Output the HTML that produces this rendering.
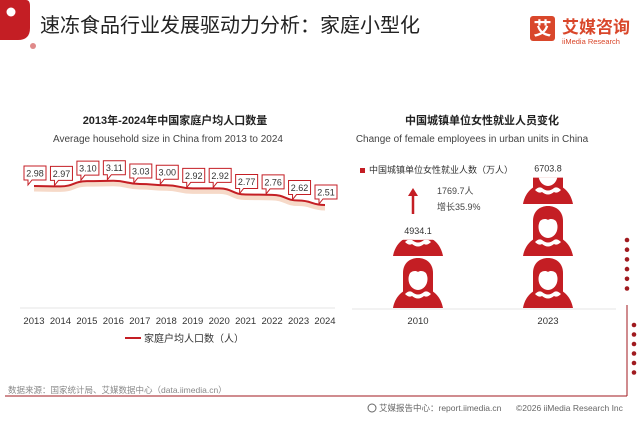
<!DOCTYPE html>
<html><head><meta charset="utf-8"><style>
html,body{margin:0;padding:0;background:#fff;}
body{width:640px;height:416px;overflow:hidden;font-family:"Liberation Sans","Noto Sans CJK SC",sans-serif;}
</style></head><body>
<svg id="root" width="640" height="416" viewBox="0 0 640 416" xmlns="http://www.w3.org/2000/svg" font-family="Liberation Sans, Noto Sans CJK SC, sans-serif">
  <g>
    <path d="M0,0 H26 Q30,0 30,6 V28 Q30,40 18,40 H0 Z" fill="#c41e24"/>
    <circle cx="11" cy="12" r="4.5" fill="#fff"/>
    <circle cx="33" cy="46" r="3" fill="#e08a8a"/>
    <text x="40" y="32" font-size="20" fill="#222">速冻食品行业发展驱动力分析：家庭小型化</text>
    <rect x="530" y="16" width="25" height="25" rx="3" fill="#d9472b"/>
    <text x="542.5" y="35" font-size="18" fill="#fff" text-anchor="middle" font-weight="bold">艾</text>
    <text x="562" y="33" font-size="17" fill="#d9472b" font-weight="bold">艾媒咨询</text>
    <text x="562" y="44" font-size="7.5" fill="#d9472b">iiMedia Research</text>
  </g>

  <g>
    <text x="175" y="124" font-size="11" fill="#222" text-anchor="middle" font-weight="bold">2013年-2024年中国家庭户均人口数量</text>
    <text x="168" y="142" font-size="10" fill="#444" text-anchor="middle">Average household size in China from 2013 to 2024</text>
    <line x1="20" y1="308" x2="335" y2="308" stroke="#e4e4e4"/>
    <g id="lineG"></g>
    <line x1="125" y1="338" x2="141" y2="338" stroke="#c41e24" stroke-width="2"/>
    <text x="144" y="342" font-size="10" fill="#333">家庭户均人口数（人）</text>
  </g>

  <g>
    <text x="482" y="124" font-size="11" fill="#222" text-anchor="middle" font-weight="bold">中国城镇单位女性就业人员变化</text>
    <text x="472" y="142" font-size="10" fill="#444" text-anchor="middle">Change of female employees in urban units in China</text>
    <rect x="360" y="168" width="5" height="5" fill="#c41e24"/>
    <text x="369" y="173" font-size="9" fill="#333">中国城镇单位女性就业人数（万人）</text>
    <line x1="413" y1="214" x2="413" y2="194" stroke="#c41e24" stroke-width="2.5"/>
    <path d="M408,196 L413,188 L418,196 Z" fill="#c41e24"/>
    <text x="437" y="194" font-size="9" fill="#444">1769.7人</text>
    <text x="437" y="210" font-size="9" fill="#444">增长35.9%</text>
    <line x1="352" y1="309" x2="616" y2="309" stroke="#e4e4e4"/>
    <g id="pictG"></g>
  </g>

  <g>
    <line x1="5" y1="396" x2="627" y2="396" stroke="#a01a1f" stroke-width="1"/>
    <line x1="627" y1="305" x2="627" y2="396" stroke="#a01a1f" stroke-width="1"/>
    <g id="dotsG"></g>
    <text x="8" y="393" font-size="8.5" fill="#888">数据来源：国家统计局、艾媒数据中心（data.iimedia.cn）</text>
    <circle cx="372" cy="408" r="4" fill="none" stroke="#666"/>
    <text x="379" y="411" font-size="8.5" fill="#666">艾媒报告中心：report.iimedia.cn</text>
    <text x="516" y="411" font-size="8.5" fill="#666">©2026 iiMedia Research Inc</text>
  </g>
</svg>
<script>
const years = ["2013","2014","2015","2016","2017","2018","2019","2020","2021","2022","2023","2024"];
const householdSize = [2.98,2.97,3.10,3.11,3.03,3.00,2.92,2.92,2.77,2.76,2.62,2.51];
const empCategories = ["2010","2023"];
const empValues = [4934.1,6703.8];

const NS = "http://www.w3.org/2000/svg";
function mk(tag, attrs, parent){const e=document.createElementNS(NS,tag);for(const k in attrs)e.setAttribute(k,attrs[k]);parent.appendChild(e);return e;}
function xScale(i){return 34 + i*(325-34)/(years.length-1);}
function yScale(v){return 186 + (2.98 - v)*40.4;}

const lg = document.getElementById('lineG');
let d = "";
householdSize.forEach((v,i)=>{
  const x=xScale(i), y=yScale(v);
  if(i===0){d+="M"+x+","+y;}else{const px=xScale(i-1),py=yScale(householdSize[i-1]);const cx=(px+x)/2;d+=" C"+cx+","+py+" "+cx+","+y+" "+x+","+y;}
});
const shadow = mk('path',{d:d,fill:"none",stroke:"#f6d9c8",'stroke-width':5,transform:"translate(0,3)"},lg);


const line = mk('path',{d:d,fill:"none",stroke:"#c41e24",'stroke-width':2},lg);


householdSize.forEach((v,i)=>{
  const x=xScale(i), y=yScale(v);
  const g = mk('g',{},lg);
  
  
  mk('path',{d:"M"+(x-10)+","+(y-20)+" h22 v14 h-14 l-4,5 l0,-5 h-4 z",fill:"#fff",stroke:"#c41e24",'stroke-width':1},g);
  const t = mk('text',{x:x+1,y:y-9.5,'font-size':9,fill:"#333",'text-anchor':"middle"},g);
  t.textContent = v.toFixed(2);
  const yl = mk('text',{x:x,y:324,'font-size':9.5,fill:"#333",'text-anchor':"middle"},lg);
  yl.textContent = years[i];
  
  
});

// pictorial bars
const pg = document.getElementById('pictG');
const base = 308, period = 52;
function hScale(v){return (v-3000)*0.0352;}
const bx = [418,548];
function icon(parent,cx,top){
  const g = mk('g',{transform:"translate("+(cx-25)+","+top+")"},parent);
  mk('path',{d:"M0,52 C2,41 9,35 15,33 Q25,40 35,33 C41,35 48,41 50,52 Z",fill:"#c41e24"},g);
  mk('path',{d:"M10,38 L10,17 C10,7 17,2 25,2 C33,2 40,7 40,17 L40,38 Z",fill:"#c41e24"},g);
  mk('ellipse',{cx:25,cy:23,rx:9.5,ry:11,fill:"#fff"},g);
  mk('path',{d:"M14,20 C15,12 20,9 25,9 C30,9 35,12 36,20 C32,15 28,14 25,16 C22,14 18,15 14,20 Z",fill:"#c41e24"},g);
  mk('path',{d:"M12,38 Q16,34 19,36 Q25,41 31,36 Q34,34 38,38 Q34,42 31,40 Q25,45 19,40 Q16,42 12,38 Z",fill:"#fff"},g);
}
empValues.forEach((v,i)=>{
  const h = hScale(v);
  const cid = 'clip'+i;
  const cp = mk('clipPath',{id:cid},pg);
  mk('rect',{x:bx[i]-30,y:base-h,width:60,height:h},cp);
  const g = mk('g',{'clip-path':"url(#"+cid+")"},pg);
  
  
  const n = Math.ceil(h/period);
  for(let k=0;k<n;k++) icon(g,bx[i],base-period*(k+1));
  const vt = mk('text',{x:bx[i],y:base-h-6,'font-size':9,fill:"#333",'text-anchor':"middle"},pg);
  vt.textContent = v.toFixed(1);
  
  
  const ct = mk('text',{x:bx[i],y:324,'font-size':9.5,fill:"#333",'text-anchor':"middle"},pg);
  ct.textContent = empCategories[i];
  
  
});

const dg = document.getElementById('dotsG');
for(let k=0;k<6;k++){
  const c1 = mk('circle',{cx:627,cy:240+k*9.7,r:2.3,fill:"#a01a1f"},dg);
  
  
  const c2 = mk('circle',{cx:634,cy:325+k*9.5,r:2.3,fill:"#a01a1f"},dg);
  
  
}
</script>
</body></html>
